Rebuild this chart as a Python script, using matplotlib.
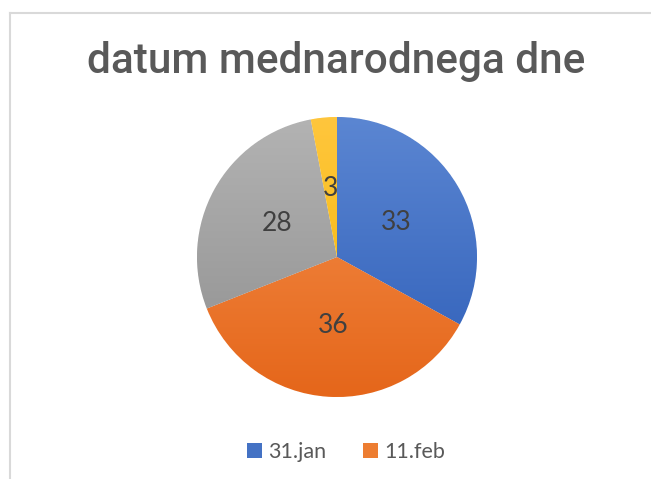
import numpy as np
import matplotlib.pyplot as plt
from matplotlib.colors import LinearSegmentedColormap
from matplotlib.patches import Patch

# data
values = [33, 36, 28, 3]
legend_labels = ['31.jan', '11.feb']
top_colors = ['#5B86D2', '#F5924F', '#B3B3B3', '#FFC63D']
bottom_colors = ['#2E5EB8', '#E5661A', '#8E8E8E', '#F2B600']
base_colors = ['#4472C4', '#ED7D31', '#A5A5A5', '#FFC000']

fig = plt.figure(figsize=(6.51, 4.79), dpi=100)
fig.patch.set_facecolor('white')

# thin grey frame (top and left edges visible)
fig.add_artist(plt.Line2D([9.5 / 651, 1.0], [1 - 12.5 / 479, 1 - 12.5 / 479],
                          color='#D9D9D9', lw=1.5, transform=fig.transFigure))
fig.add_artist(plt.Line2D([9.5 / 651, 9.5 / 651], [0, 1 - 12.5 / 479],
                          color='#D9D9D9', lw=1.5, transform=fig.transFigure))

fig.text(0.517, 1 - 61 / 479, 'datum mednarodnega dne', ha='center', va='center',
         fontsize=30.5, color='#595959', family='Roboto', weight='medium')

cx, cy, r = 337, 257, 140
ax = fig.add_axes([(cx - r) / 651, (479 - cy - r) / 479, 2 * r / 651, 2 * r / 479])
total = sum(values)
wedges, texts, autotexts = ax.pie(values, startangle=90, counterclock=False,
                                  colors=base_colors, radius=1,
                                  autopct=lambda p: f'{p * total / 100:.0f}',
                                  pctdistance=0.49,
                                  wedgeprops=dict(edgecolor='white', linewidth=0.6),
                                  textprops=dict(fontsize=19, color='#404040', family='Lato'))

# vertical gradient fill per slice
grad = np.linspace(0, 1, 256).reshape(-1, 1)
for w, c0, c1 in zip(wedges, top_colors, bottom_colors):
    cmap = LinearSegmentedColormap.from_list('g', [c0, c1])
    im = ax.imshow(grad, cmap=cmap, extent=(-1, 1, -1, 1), origin='upper',
                   aspect='auto', zorder=1.5)
    im.set_clip_path(w)
for t in autotexts:
    t.set_zorder(3)

ax.set_xlim(-1, 1)
ax.set_ylim(-1, 1)
ax.set_aspect('equal')
ax.axis('off')

handles = [Patch(facecolor=base_colors[i]) for i in range(len(legend_labels))]
fig.legend(handles, legend_labels, loc='center', bbox_to_anchor=(0.532, 1 - 452 / 479),
           ncol=2, frameon=False, handlelength=0.7, handleheight=0.7,
           handletextpad=0.3, columnspacing=1.7,
           prop=dict(family='Lato', size=15.5), labelcolor='#595959')

fig.savefig('out.png', dpi=100)
